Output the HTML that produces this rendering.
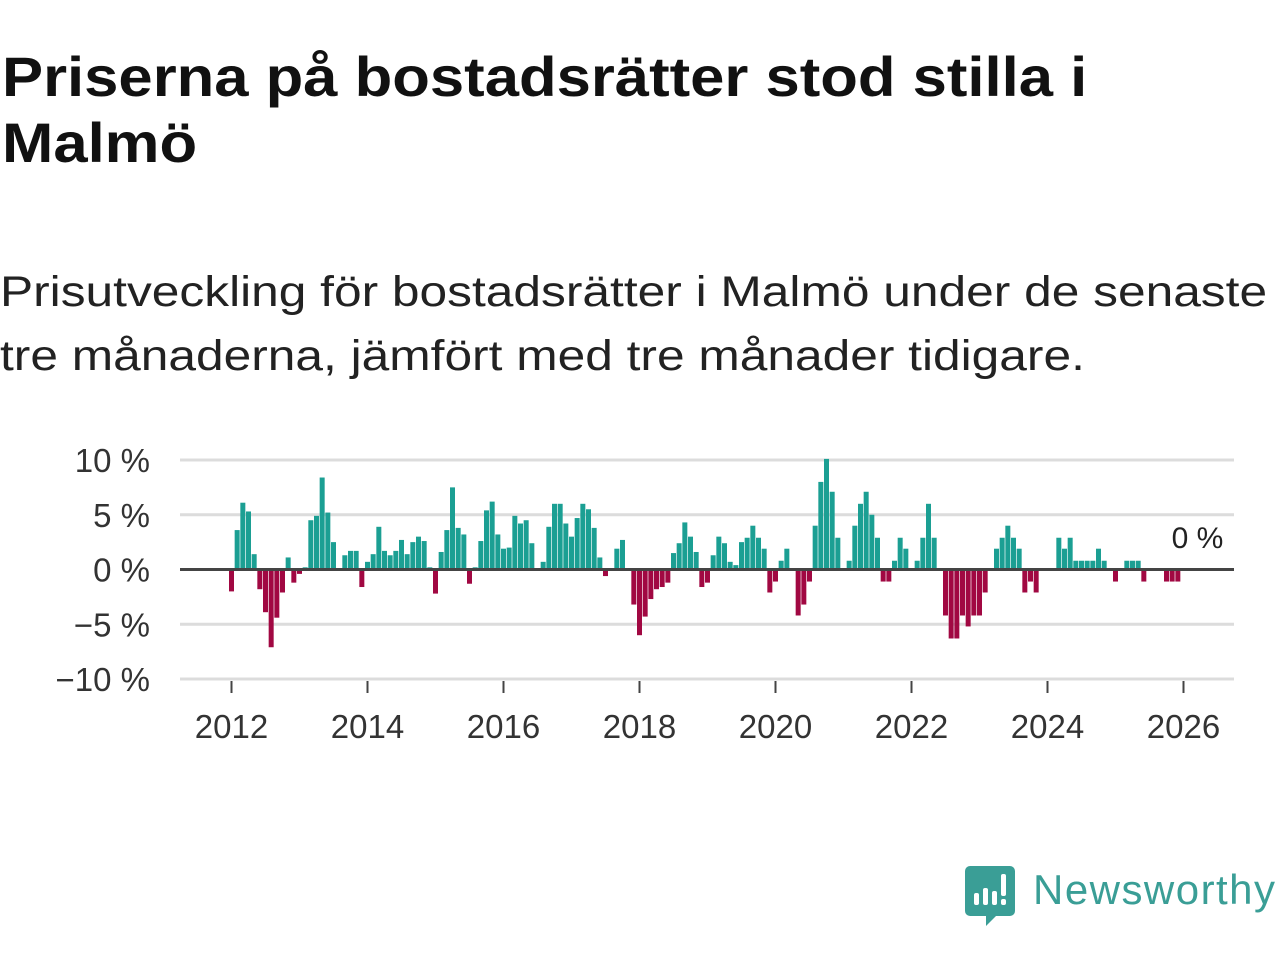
<!DOCTYPE html>
<html><head><meta charset="utf-8">
<style>
html,body{margin:0;padding:0;background:#fff;width:1280px;height:960px;overflow:hidden}
body{font-family:"Liberation Sans",sans-serif;position:relative}
#title{position:absolute;left:2px;top:44px;font-size:56px;font-weight:bold;line-height:66px;color:#111;margin:0;white-space:nowrap;transform:scaleX(1.10);transform-origin:0 0}
#sub{position:absolute;left:0;top:260px;font-size:43px;line-height:64px;color:#222;margin:0;white-space:nowrap;transform:scaleX(1.155);transform-origin:0 0}
</style></head>
<body>
<h1 id="title">Priserna på bostadsrätter stod stilla i<br>Malmö</h1>
<p id="sub">Prisutveckling för bostadsrätter i Malmö under de senaste<br>tre månaderna, jämfört med tre månader tidigare.</p>
<svg id="chart" width="1280" height="960" style="position:absolute;left:0;top:0">
<g id="grid"></g>
<g id="bars"></g>
<g id="axes"></g>
<g>
<path d="M970 866 h40 a5 5 0 0 1 5 5 v40 a5 5 0 0 1 -5 5 h-14 l-10 10 v-10 h-16 a5 5 0 0 1 -5 -5 v-40 a5 5 0 0 1 5 -5z" fill="#3a9e96"/>
<rect x="974" y="893" width="5" height="12" rx="2" fill="#fff"/>
<rect x="983" y="888" width="5" height="17" rx="2" fill="#fff"/>
<rect x="992" y="891" width="5" height="14" rx="2" fill="#fff"/>
<rect x="1001" y="874" width="5" height="22" rx="2" fill="#fff"/>
<rect x="1001" y="899" width="5" height="6" rx="2" fill="#fff"/>
<text x="1033" y="904" font-size="42" fill="#3a9e96" textLength="242" font-family="Liberation Sans, sans-serif">Newsworthy</text>
</g>
</svg>
<script>
const values = [
-2,3.6,6.1,5.3,1.4,-1.8,-3.9,-7.1,-4.4,-2.1,1.1,-1.2,
-0.4,0.2,4.5,4.9,8.4,5.2,2.5,0,1.3,1.7,1.7,-1.6,
0.7,1.4,3.9,1.7,1.3,1.7,2.7,1.4,2.5,3.0,2.6,0.2,
-2.2,1.6,3.6,7.5,3.8,3.2,-1.3,0.2,2.6,5.4,6.2,3.2,
1.9,2.0,4.9,4.2,4.5,2.4,0,0.7,3.9,6.0,6.0,4.2,
3.0,4.7,6.0,5.5,3.8,1.1,-0.6,0.1,1.9,2.7,0,-3.2,
-6.0,-4.3,-2.7,-1.8,-1.6,-1.2,1.5,2.4,4.3,3.0,1.6,-1.6,
-1.2,1.3,3.0,2.4,0.7,0.4,2.5,2.9,4.0,2.9,1.9,-2.1,
-1.1,0.8,1.9,0,-4.2,-3.2,-1.1,4.0,8.0,10.1,7.1,2.9,
0,0.8,4.0,6.0,7.1,5.0,2.9,-1.1,-1.1,0.8,2.9,1.9,
0,0.8,2.9,6.0,2.9,0,-4.2,-6.3,-6.3,-4.2,-5.2,-4.2,
-4.2,-2.1,0,1.9,2.9,4.0,2.9,1.9,-2.1,-1.1,-2.1,0,
0,0,2.9,1.9,2.9,0.8,0.8,0.8,0.8,1.9,0.8,0,
-1.1,0,0.8,0.8,0.8,-1.1,0,0,0,-1.1,-1.1,-1.1,
0
];
const startYear = 2012;
const yTicks = [10,5,0,-5,-10];
const yTickLabels = ["10 %","5 %","0 %","−5 %","−10 %"];
const xTickYears = [2012,2014,2016,2018,2020,2022,2024,2026];
const lastLabel = "0 %";

const NS="http://www.w3.org/2000/svg";
const x0=231.5, monthW=68/12, plotL=180, plotR=1234;
const xMonth = i => x0 + i*monthW;
const yVal = v => 569.5 - v*10.95;
function mk(tag, attrs, parent){const e=document.createElementNS(NS,tag);for(const k in attrs)e.setAttribute(k,attrs[k]);parent.appendChild(e);return e;}
const grid=document.getElementById('grid'), bars=document.getElementById('bars'), axes=document.getElementById('axes');
yTicks.forEach((t,i)=>{
  if(t!==0){const l=mk('line',{x1:plotL,x2:plotR,y1:yVal(t),y2:yVal(t),stroke:'#dcdcdc','stroke-width':3},grid);
  
  }
  const tx=mk('text',{x:150,y:yVal(t)+12,'text-anchor':'end','font-size':33,fill:'#333'},axes);
  tx.textContent=yTickLabels[i];
  
  
});
values.forEach((v,i)=>{
  if(v===0) return;
  const cx=xMonth(i), y0=yVal(0), y1=yVal(v);
  const r=mk('rect',{x:cx-2.5,width:5,y:Math.min(y0,y1),height:Math.abs(y1-y0),fill:v>0?'#1b9f93':'#a10842'},bars);
  
  
});
const zl=mk('line',{x1:plotL,x2:plotR,y1:yVal(0),y2:yVal(0),stroke:'#444','stroke-width':3},axes);


xTickYears.forEach(yr=>{
  const x=xMonth((yr-startYear)*12);
  const tk=mk('line',{x1:x,x2:x,y1:681,y2:693,stroke:'#444','stroke-width':2},axes);
  
  
  const tx=mk('text',{x:x,y:738,'text-anchor':'middle','font-size':33,fill:'#333'},axes);
  tx.textContent=String(yr);
  
  
});
const ll=mk('text',{x:xMonth(values.length-1)+14,y:548,'text-anchor':'middle','font-size':30,fill:'#222'},axes);
ll.textContent=lastLabel;


</script>
</body></html>
